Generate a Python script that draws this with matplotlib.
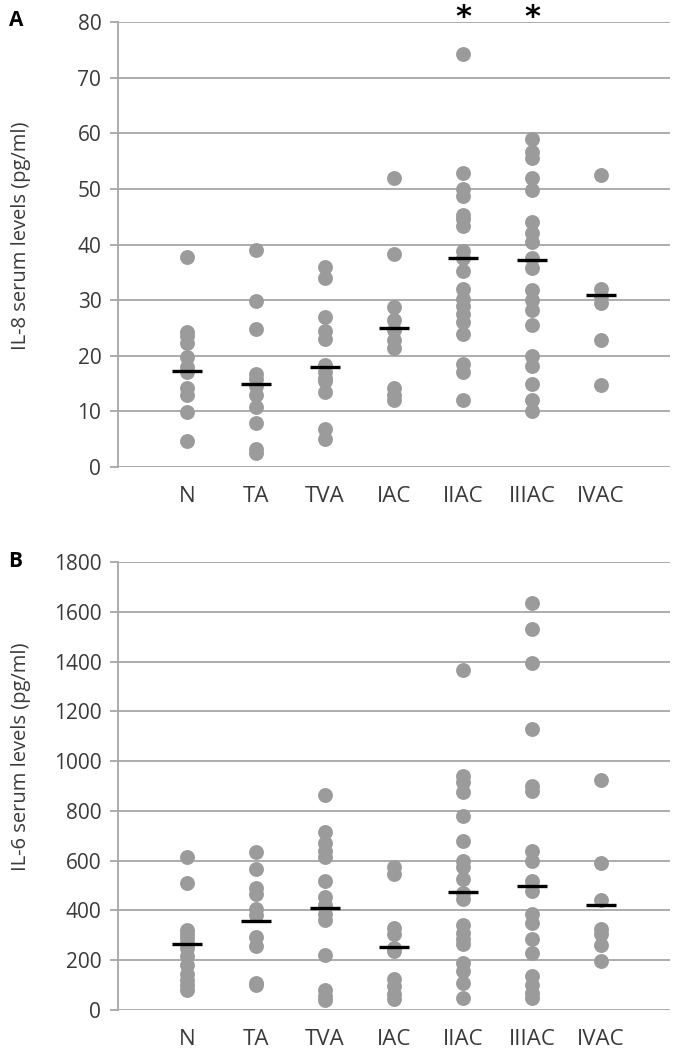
import matplotlib
matplotlib.use("Agg")
import matplotlib.pyplot as plt
import numpy as np

plt.rcParams['font.family'] = ['Open Sans', 'DejaVu Sans']

groups = ["N", "TA", "TVA", "IAC", "IIAC", "IIIAC", "IVAC"]

# IL-8 (pg/ml), panel A
il8_N = [37.8, 24.3, 23.5, 22.3, 19.8, 18, 17, 14.2, 13, 9.8, 4.7]
il8_TA = [39, 29.8, 24.8, 16.8, 15.8, 14.5, 13, 10.8, 7.9, 3.2, 2.5]
il8_TVA = [36, 34, 27, 24.5, 23, 18.3, 17, 16, 15.5, 13.5, 6.8, 5]
il8_IAC = [52, 38.3, 28.8, 26.5, 24.6, 22.8, 21.4, 14.2, 13, 12]
il8_IIAC = [74.3, 52.8, 50, 48.8, 45.3, 44.5, 43.3, 38.8, 37.5, 35.3, 32,
            30.2, 29, 27.5, 26, 24, 18.5, 17, 12]
il8_IIIAC = [59, 56.7, 55.5, 51.9, 49.8, 44, 42, 40.5, 37.5, 35.7, 31.8,
             30, 28.2, 25.5, 20, 18.2, 15, 12, 10]
il8_IVAC = [52.5, 32, 30.8, 29.5, 22.8, 14.8]
il8_lines = [17.3, 15.0, 17.9, 24.9, 37.6, 37.3, 30.9]
il8_stars = ["IIAC", "IIIAC"]

# IL-6 (pg/ml), panel B
il6_N = [615, 512, 322, 305, 290, 270, 250, 215, 180, 145, 120, 100, 80]
il6_TA = [635, 568, 490, 465, 405, 380, 295, 258, 110, 100]
il6_TVA = [865, 715, 670, 640, 615, 520, 455, 420, 385, 360, 220, 80, 55, 40]
il6_IAC = [575, 545, 330, 305, 250, 235, 125, 95, 65, 45]
il6_IIAC = [1365, 940, 915, 875, 780, 680, 600, 575, 525, 470, 445, 340,
            310, 285, 265, 190, 155, 110, 50]
il6_IIIAC = [1635, 1530, 1395, 1130, 900, 880, 640, 600, 520, 480, 385,
             350, 285, 230, 135, 100, 70, 50]
il6_IVAC = [925, 590, 440, 325, 305, 262, 195]
il6_lines = [266, 358, 408, 254, 474, 500, 422]

il8 = [il8_N, il8_TA, il8_TVA, il8_IAC, il8_IIAC, il8_IIIAC, il8_IVAC]
il6 = [il6_N, il6_TA, il6_TVA, il6_IAC, il6_IIAC, il6_IIIAC, il6_IVAC]

dot_col = "#9b9b9b"
grid_col = "#a6a6a6"
txt_col = "#3a3a3a"


def draw_panel(ax, data, lines, ymax, ystep, ylabel, label_y):
    for i, vals in enumerate(data):
        x = i + 1
        ax.scatter(np.full(len(vals), x), vals, s=115, color=dot_col,
                   linewidths=0, zorder=3)
        ax.hlines(lines[i], x - 0.22, x + 0.22, color="black", lw=2.4, zorder=4)
    ax.set_xlim(0, 8)
    ax.set_ylim(0, ymax)
    ax.set_yticks(np.arange(0, ymax + 1, ystep))
    ax.set_xticks(range(1, len(groups) + 1))
    ax.set_xticklabels(groups)
    ax.yaxis.grid(True, color=grid_col, lw=1.3)
    ax.set_axisbelow(True)
    for s in ["top", "right", "bottom"]:
        ax.spines[s].set_visible(False)
    ax.spines["left"].set_color(grid_col)
    ax.spines["left"].set_linewidth(1.3)
    ax.tick_params(axis="y", length=6, color=grid_col, width=1.3,
                   labelsize=15, labelcolor=txt_col, pad=6)
    ax.tick_params(axis="x", length=0, labelsize=16, labelcolor=txt_col, pad=14)
    ax.set_ylabel(ylabel, fontsize=14.5, color=txt_col)
    ax.yaxis.set_label_coords(-0.158, label_y)


fig = plt.figure(figsize=(6.76, 10.58), dpi=100)
axA = fig.add_axes([0.1746, 0.5586, 0.8164, 0.4206])
axB = fig.add_axes([0.1746, 0.0454, 0.8164, 0.4234])

draw_panel(axA, il8, il8_lines, 80, 10, "IL-8 serum levels (pg/ml)", 0.52)
draw_panel(axB, il6, il6_lines, 1800, 200, "IL-6 serum levels (pg/ml)", 0.565)

# significance marks sit above the top gridline
for g in il8_stars:
    xf = axA.transData.transform((groups.index(g) + 1, 0))[0] / fig.bbox.width
    fig.text(xf, 1 - 3 / 1058, "*", ha="center", va="top",
             fontsize=22, fontweight="bold", color="black", family="DejaVu Sans")

fig.text(0.013, 0.981, "A", fontsize=15, fontweight="bold", va="center")
fig.text(0.012, 0.469, "B", fontsize=15, fontweight="bold", va="center")

fig.savefig("out.png", dpi=100)
